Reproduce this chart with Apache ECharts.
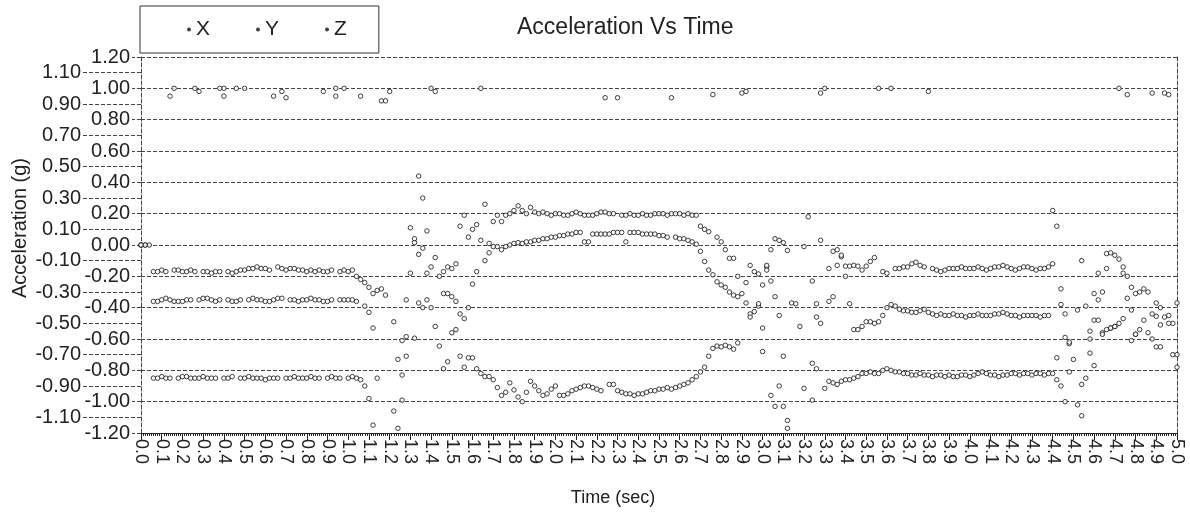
<!DOCTYPE html>
<html>
<head>
<meta charset="utf-8">
<title>Acceleration Vs Time</title>
<script src="https://cdn.jsdelivr.net/npm/echarts@6/dist/echarts.min.js"></script>
<style>
  html, body { margin: 0; padding: 0; background: #fff; }
  #main { width: 1190px; height: 521px; }
</style>
</head>
<body>
<div id="main"></div>
<script>
// logger sample period (s); one value per sample, null = no sample drawn
var dt = 0.02;

var accX = [
  0, 0, 0, -0.17, -0.17, -0.16, -0.17, 0.95, -0.16, -0.16,
  -0.17, -0.17, -0.16, -0.17, 0.98, -0.17, -0.17, -0.18, -0.17, -0.17,
  1.00, -0.17, -0.18, -0.17, -0.16, -0.16, -0.15, -0.15, -0.14, -0.15,
  -0.15, -0.16, 0.95, -0.14, -0.15, -0.16, -0.15, -0.15, -0.16, -0.16,
  -0.17, -0.16, -0.17, -0.16, -0.17, -0.17, -0.16, 1.00, -0.17, -0.16,
  -0.17, -0.16, -0.20, -0.22, -0.24, -0.27, -0.31, -0.29, -0.28, -0.32,
  null, null, null, -0.83, -0.35, 0.11, 0.04, 0.44, 0.30, 0.09,
  1.00, -0.08, -0.20, -0.17, -0.14, -0.15, -0.12, 0.12, 0.19, 0.05,
  0.10, 0.13, 1.00, 0.26, 0.01, 0.15, 0.19, 0.15, 0.19, 0.20,
  0.22, 0.25, 0.22, 0.20, 0.24, 0.21, 0.20, 0.21, 0.20, 0.19,
  0.20, 0.20, 0.19, 0.19, 0.20, 0.21, 0.20, 0.19, 0.19, 0.19,
  0.20, 0.21, 0.21, 0.20, 0.20, 0.94, 0.19, 0.19, 0.20, 0.19,
  0.19, 0.20, 0.19, 0.19, 0.20, 0.20, 0.20, 0.19, 0.20, 0.20,
  0.20, 0.19, 0.20, 0.19, 0.19, 0.12, 0.10, 0.085, 0.96, 0.05,
  0.02, -0.03, -0.085, -0.085, -0.20, 0.97, -0.24, -0.13, -0.17, -0.185,
  -0.255, -0.14, -0.03, 0.04, 0.03, 0.015, -0.035, null, null, null,
  -0.01, 0.18, -0.23, -0.375, 0.03, 1.00, -0.15, -0.04, -0.13, -0.075,
  -0.135, -0.135, -0.13, -0.135, -0.16, -0.135, -0.105, -0.08, 1.00, -0.17,
  -0.18, 1.00, -0.15, -0.15, -0.14, -0.14, -0.12, -0.11, -0.13, -0.14,
  0.98, -0.15, -0.16, -0.17, -0.16, -0.15, -0.15, -0.15, -0.14, -0.15,
  -0.15, -0.15, -0.14, -0.15, -0.16, -0.15, -0.14, -0.14, -0.13, -0.14,
  -0.15, -0.16, -0.15, -0.14, -0.14, -0.15, -0.16, -0.15, -0.15, -0.14,
  -0.12, 0.12, -0.28, -0.59, -0.63, null, null, -0.10, null, -0.55,
  -0.31, -0.18, -0.30, -0.055, -0.05, -0.065, -0.09, -0.14, -0.20, -0.27,
  -0.31, -0.30, -0.28, -0.30, 0.97, -0.37, -0.40, 0.97, -0.45, null,
  -0.37
];

var accY = [
  0, 0, null, -0.36, -0.36, -0.35, -0.34, -0.35, -0.36, -0.36,
  -0.36, -0.35, -0.35, 1.00, -0.35, -0.34, -0.34, -0.35, -0.36, -0.35,
  0.95, -0.35, -0.36, -0.36, -0.35, 1.00, -0.35, -0.34, -0.35, -0.35,
  -0.36, -0.36, -0.35, -0.34, -0.34, 0.94, -0.35, -0.35, -0.36, -0.35,
  -0.35, -0.34, -0.35, -0.35, -0.36, -0.36, -0.35, 0.95, -0.35, -0.35,
  -0.35, -0.35, -0.36, 0.95, -0.39, -0.43, -0.53, null, 0.92, null,
  0.98, -0.49, -0.73, -0.61, -0.585, -0.18, 0.015, -0.06, -0.02, -0.18,
  -0.14, 0.98, null, -0.31, -0.31, -0.33, -0.36, -0.44, -0.47, -0.40,
  -0.25, -0.17, 0.03, -0.10, -0.05, -0.01, -0.01, -0.03, -0.01, 0.00,
  0.01, 0.015, 0.01, 0.02, 0.02, 0.03, 0.03, 0.04, 0.04, 0.05,
  0.05, 0.06, 0.06, 0.07, 0.07, 0.08, 0.08, 0.02, 0.02, 0.07,
  0.07, 0.07, 0.07, 0.07, 0.08, 0.08, 0.08, 0.02, 0.08, 0.08,
  0.08, 0.07, 0.07, 0.07, 0.07, 0.06, 0.06, 0.05, 0.94, 0.05,
  0.04, 0.04, 0.03, 0.02, 0.005, -0.04, -0.105, -0.16, -0.19, -0.235,
  -0.255, -0.27, -0.30, -0.32, -0.33, -0.31, -0.37, -0.44, -0.425, -0.39,
  -0.53, -0.16, -0.23, -0.33, -0.45, -0.71, -1.12, -0.37, -0.375, -0.52,
  null, null, -0.755, -0.46, -0.50, null, -0.36, -0.33, -0.03, -0.065,
  -0.20, -0.375, -0.54, -0.54, -0.52, -0.49, -0.49, -0.50, -0.49, -0.45,
  -0.40, -0.38, -0.39, -0.41, -0.42, -0.42, -0.43, -0.43, -0.42, -0.41,
  -0.43, -0.44, -0.45, -0.44, -0.45, -0.45, -0.44, -0.45, -0.45, -0.46,
  -0.45, -0.45, -0.44, -0.45, -0.45, -0.45, -0.44, -0.44, -0.43, -0.44,
  -0.45, -0.45, -0.46, -0.45, -0.45, -0.45, -0.45, -0.46, -0.45, -0.45,
  0.22, -0.72, -0.38, -0.44, -0.62, -0.73, -0.415, -0.89, -0.39, -0.60,
  -0.48, -0.35, -0.56, -0.15, -0.53, -0.52, 1.00, -0.47, -0.34, -0.415,
  -0.57, -0.54, -0.48, -0.56, -0.44, -0.455, -0.51, -0.46, 0.96, -0.50,
  -0.78
];

var accZ = [
  0, null, null, -0.85, -0.85, -0.84, -0.85, -0.85, 1.00, -0.85,
  -0.84, -0.84, -0.85, -0.85, -0.85, -0.84, -0.85, -0.85, -0.85, 1.00,
  -0.85, -0.85, -0.84, 1.00, -0.85, -0.85, -0.84, -0.85, -0.85, -0.85,
  -0.86, -0.85, -0.85, -0.85, 0.98, -0.85, -0.85, -0.84, -0.85, -0.85,
  -0.85, -0.84, -0.85, -0.85, 0.98, -0.85, -0.84, -0.85, -0.85, 1.00,
  -0.85, -0.84, -0.85, -0.86, -0.90, -0.98, -1.15, -0.85, null, 0.92,
  null, -1.06, -1.17, -0.99, -0.71, null, -0.595, -0.37, -0.40, -0.35,
  -0.40, -0.52, -0.645, -0.79, -0.745, -0.56, -0.54, -0.71, -0.78, -0.72,
  -0.72, -0.79, -0.82, -0.84, -0.84, -0.86, -0.91, -0.96, -0.94, -0.88,
  -0.925, -0.97, -1.00, -0.94, -0.87, -0.90, -0.93, -0.96, -0.95, -0.92,
  -0.90, -0.96, -0.96, -0.95, -0.93, -0.92, -0.91, -0.90, -0.90, -0.91,
  -0.92, -0.93, 0.94, -0.89, -0.89, -0.93, -0.94, -0.95, -0.95, -0.96,
  -0.95, -0.95, -0.94, -0.93, -0.93, -0.92, -0.92, -0.91, -0.92, -0.91,
  -0.90, -0.89, -0.88, -0.86, -0.84, -0.81, -0.78, -0.71, -0.66, -0.645,
  -0.65, -0.64, -0.65, -0.665, -0.625, null, 0.98, -0.46, null, -0.375,
  -0.68, -0.13, -0.96, -1.03, -0.90, -1.03, -1.17, null, null, null,
  -0.915, null, -0.99, -0.79, 0.97, -0.915, -0.87, -0.88, -0.89, -0.87,
  -0.86, -0.86, -0.85, -0.84, -0.82, -0.82, -0.81, -0.82, -0.82, -0.80,
  -0.79, -0.80, -0.81, -0.81, -0.82, -0.82, -0.83, -0.83, -0.82, -0.83,
  -0.83, -0.84, -0.83, -0.83, -0.84, -0.83, -0.84, -0.84, -0.83, -0.83,
  -0.84, -0.83, -0.82, -0.81, -0.82, -0.83, -0.83, -0.84, -0.83, -0.83,
  -0.82, -0.82, -0.83, -0.82, -0.82, -0.83, -0.82, -0.82, -0.83, -0.82,
  -0.82, -0.86, -0.90, -1.00, -0.81, null, -1.02, -1.09, -0.85, -0.69,
  -0.77, -0.48, -0.57, -0.54, -0.53, -0.52, -0.50, -0.18, 0.96, -0.61,
  -0.57, null, null, null, -0.60, -0.65, -0.65, null, -0.50, -0.70,
  -0.70
];

// y tick labels: two staggered columns
var yLabelsNear = [-1.2, -1.0, -0.8, -0.6, -0.4, -0.2, 0.0, 0.2, 0.4, 0.6, 0.8, 1.0, 1.2];
var yLabelsFar = [-1.1, -0.9, -0.7, -0.5, -0.3, -0.1, 0.1, 0.3, 0.5, 0.7, 0.9, 1.1];

function toPoints(vals) {
  var pts = [];
  for (var i = 0; i < vals.length; i++) {
    if (vals[i] !== null) pts.push([+(i * dt).toFixed(2), vals[i]]);
  }
  return pts;
}

var font = 'Liberation Sans, Arial, sans-serif';
var ink = '#222';
var dashed = { color: '#444', width: 1, type: [4, 2] };

function scatter(name, vals) {
  return {
    name: name,
    type: 'scatter',
    symbol: 'circle',
    symbolSize: 4.5,
    itemStyle: { color: '#fff', borderColor: '#111', borderWidth: 1 },
    data: toPoints(vals),
    z: 5
  };
}

var myChart = echarts.init(document.getElementById('main'));

var option = {
  animation: false,
  backgroundColor: '#fff',
  textStyle: { fontFamily: font },
  title: {
    text: 'Acceleration Vs Time',
    left: 512,
    top: 11,
    textStyle: { fontSize: 23, fontWeight: 'normal', color: ink, fontFamily: font }
  },
  legend: {
    data: ['X', 'Y', 'Z'],
    left: 140,
    top: 6,
    icon: 'circle',
    itemWidth: 4,
    itemHeight: 4,
    itemGap: 46,
    padding: [13, 32, 13, 47],
    borderColor: '#333',
    borderWidth: 1,
    itemStyle: { color: '#111', borderWidth: 0 },
    textStyle: { fontSize: 21, color: ink, fontFamily: font }
  },
  grid: { left: 141, right: 13, top: 57, bottom: 88 },
  xAxis: {
    type: 'value',
    min: 0,
    max: 5,
    interval: 0.1,
    name: 'Time (sec)',
    nameLocation: 'middle',
    nameGap: 56,
    nameTextStyle: { fontSize: 18, color: ink, padding: [0, 92, 0, 0] },
    axisLine: { onZero: false, lineStyle: { color: ink } },
    axisTick: { length: 7, lineStyle: { color: ink } },
    minorTick: { show: true, splitNumber: 10, length: 3, lineStyle: { color: ink } },
    splitLine: { show: false },
    axisLabel: {
      rotate: -90,
      margin: 6,
      fontSize: 18,
      color: ink,
      formatter: function (v) { return v.toFixed(1); }
    }
  },
  yAxis: [
    {
      type: 'value',
      min: -1.2,
      max: 1.2,
      interval: 0.1,
      position: 'left',
      name: 'Acceleration (g)',
      nameLocation: 'middle',
      nameGap: 111,
      nameTextStyle: { fontSize: 20, color: ink, padding: [0, 0, 0, 34] },
      axisLine: { show: true, lineStyle: dashed },
      axisTick: { show: true, length: 9, customValues: yLabelsNear, lineStyle: dashed },
      axisLabel: {
        customValues: yLabelsNear,
        margin: 11,
        fontSize: 20,
        color: ink,
        formatter: function (v) { return v.toFixed(2); }
      },
      splitLine: { show: true, lineStyle: dashed }
    },
    {
      type: 'value',
      min: -1.2,
      max: 1.2,
      interval: 0.1,
      position: 'left',
      axisLine: { show: false },
      axisTick: { show: true, length: 59, customValues: yLabelsFar, lineStyle: dashed },
      axisLabel: {
        customValues: yLabelsFar,
        margin: 60,
        fontSize: 20,
        color: ink,
        formatter: function (v) { return v.toFixed(2); }
      },
      splitLine: { show: false }
    },
    {
      type: 'value',
      min: -1.2,
      max: 1.2,
      position: 'right',
      axisLine: { show: true, lineStyle: dashed },
      axisTick: { show: false },
      axisLabel: { show: false },
      splitLine: { show: false }
    }
  ],
  series: [
    scatter('X', accX),
    scatter('Y', accY),
    scatter('Z', accZ)
  ]
};

myChart.setOption(option);
</script>
</body>
</html>
